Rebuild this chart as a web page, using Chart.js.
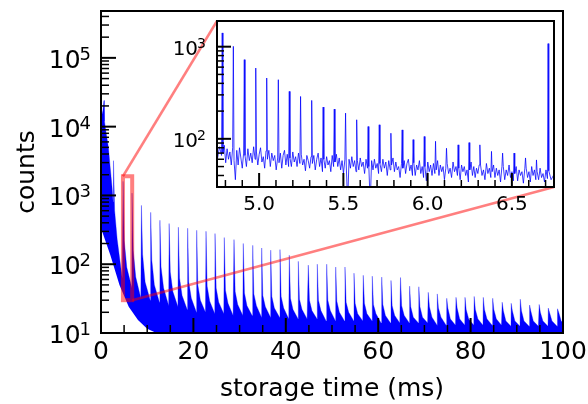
<!DOCTYPE html>
<html>
<head>
<meta charset="utf-8">
<script src="https://cdn.jsdelivr.net/npm/chart.js@4.4.1/dist/chart.umd.min.js"></script>
<style>
  html, body { margin: 0; padding: 0; background: #fff; }
  #wrap { position: relative; width: 588px; height: 404px; }
  #wrap canvas { position: absolute; left: 0; top: 0; }
</style>
</head>
<body>
<div id="wrap">
  <canvas id="mainChart" width="588" height="404"></canvas>
  <canvas id="insetChart" width="588" height="404"></canvas>
</div>
<script>
// ---- main panel data (counts vs storage time in ms) ----
// first ~2.6 ms: big initial burst, read as an envelope
var earlyTimes  = [0.1, 0.4, 0.65, 0.75, 1.0, 1.6, 2.0, 2.4, 2.62];
var earlyCounts = [14000, 17000, 24000, 12000, 9000, 5000, 2500, 1300, 800];

// one revival peak every ~2 ms: peak, shoulder (+0.25), mid (+0.8), trough (+1.9)
var spikeTimes = [2.7, 4.78, 6.72, 8.75, 10.75, 12.75, 14.75, 16.75, 18.75,
  20.71, 22.73, 24.68, 26.69, 28.79, 30.8, 32.84, 34.78, 36.73, 38.74,
  40.76, 42.71, 44.87, 46.82, 48.85, 50.8, 52.81, 54.76, 56.77, 58.72,
  60.76, 62.77, 64.83, 66.8, 68.79, 70.84, 72.79, 74.83, 76.84, 78.79,
  80.78, 82.75, 84.78, 86.84, 88.79, 90.76, 92.77, 94.85, 96.82, 98.81];
var spikePeaks = [3200, 1600, 1080, 716, 567, 435, 390, 345, 333,
  311, 301, 279, 244, 228, 200, 188, 172, 160, 163,
  135, 110, 97, 100, 100, 91, 91, 74, 69, 67,
  65, 58, 64, 48, 47, 39, 37, 32, 33, 33,
  34, 33, 32, 28, 27, 31, 25.5, 26, 23, 22.5];
var spikeShoulders = [600, 220, 160, 140, 114, 91, 77, 63, 55,
  50, 48, 45, 42, 40, 38, 37, 35, 34, 34,
  32, 31, 30, 30, 30, 29, 28, 27, 27, 26,
  26, 25, 25, 24, 24, 24, 23, 23, 23, 22,
  22, 22, 22, 21, 21, 21, 21, 20, 20, 20];
var spikeMids = [230, 90, 65, 55, 50, 45, 40, 35, 32,
  30, 29, 28, 27, 26, 25, 25, 24, 23, 23,
  22, 22, 21, 21, 21, 20, 20, 19, 19, 19,
  18, 18, 18, 17, 17, 17, 17, 16, 16, 16,
  16, 16, 16, 15, 15, 15, 15, 15, 15, 15];
var spikeTroughs = [62, 45, 32, 30, 28, 25, 24, 22, 20,
  20, 19, 19, 18, 18, 18, 17, 17, 17, 16,
  16, 16, 16, 15, 15, 15, 15, 15, 15, 14,
  14, 14, 14, 14, 14, 13, 13, 13, 13, 13,
  13, 13, 13, 12.5, 12.5, 12.5, 12.5, 12.5, 12.5, 12.5];

// lower edge of the data band (white wedge at the start)
var lowerTimes  = [0.1, 2, 4, 6, 8, 10, 12, 101];
var lowerCounts = [320, 137, 50, 24, 15.5, 11.5, 10, 10];

// ---- inset data (4.75 - 6.75 ms) ----
var insetSpikeTimes = [4.781, 4.847, 4.912, 4.980, 5.045, 5.114, 5.179, 5.246, 5.312, 5.380,
  5.446, 5.513, 5.579, 5.647, 5.713, 5.782, 5.849, 5.914, 5.980, 6.047,
  6.112, 6.181, 6.246, 6.310, 6.379, 6.445, 6.513, 6.581, 6.646, 6.715];
var insetSpikeCounts = [1410, 1008, 723, 586, 457, 438, 327, 288, 261, 221,
  210, 190, 161, 136, 142, 115, 125, 98, 106, 94,
  79, 86, 91, 86, 73, 70, 70, 62, 59, 1080];
// background noise between the small peaks (row 0 = before the first peak)
var insetNoise = [
  [75, 60, 82, 66],
  [70, 85, 55, 78, 60, 72, 52, 80], [58, 36, 75, 52, 80, 62, 48, 70], [66, 50, 78, 58, 70, 55, 82, 60],
  [72, 52, 68, 80, 56, 64, 48, 74], [60, 75, 50, 70, 58, 66, 46, 62], [55, 70, 48, 66, 75, 52, 68, 50],
  [62, 50, 72, 56, 64, 50, 70, 54], [68, 52, 60, 45, 66, 58, 48, 64], [54, 66, 46, 60, 70, 50, 62, 44],
  [60, 48, 64, 52, 58, 44, 66, 50], [56, 68, 50, 62, 46, 58, 42, 60], [52, 20, 60, 48, 64, 50, 58, 44],
  [58, 46, 62, 50, 56, 42, 60, 48], [50, 20, 58, 46, 60, 48, 54, 42], [54, 44, 60, 48, 56, 40, 58, 46],
  [52, 62, 44, 56, 46, 50, 38, 54], [48, 58, 42, 54, 60, 45, 52, 40], [55, 40, 52, 46, 58, 42, 50, 38],
  [50, 35, 56, 44, 52, 40, 54, 42], [46, 58, 40, 52, 44, 50, 36, 48], [54, 42, 48, 38, 56, 44, 50, 40],
  [48, 36, 52, 44, 50, 40, 46, 34], [46, 56, 40, 50, 38, 48, 42, 52], [52, 40, 46, 36, 54, 42, 48, 38],
  [44, 52, 38, 48, 40, 46, 34, 50], [50, 36, 46, 40, 52, 38, 44, 35], [42, 50, 35, 46, 40, 44, 33, 48],
  [48, 38, 44, 34, 50, 40, 46, 36], [44, 36, 48, 38, 42, 34, 46, 37],
  [45, 36, 40, 34]
];

// ---- axes ----
var xTicks      = [0, 20, 40, 60, 80, 100];
var xMinorTicks = [5, 10, 15, 25, 30, 35, 45, 50, 55, 65, 70, 75, 85, 90, 95];
var yTicks      = [10, 100, 1000, 10000, 100000];
var insetXTicks      = [5.0, 5.5, 6.0, 6.5];
var insetXMinorTicks = [4.8, 4.9, 5.1, 5.2, 5.3, 5.4, 5.6, 5.7, 5.8, 5.9, 6.1, 6.2, 6.3, 6.4, 6.6, 6.7];
var insetYTicks      = [100, 1000];
var insetXRange = [4.75, 6.75];
var insetYRange = [30, 1900];

var FONT = 'DejaVu Sans';

function logMinors(min, max) {
  var out = [];
  for (var d = 1; d < 1e6; d *= 10) {
    for (var m = 2; m <= 9; m++) {
      var v = m * d;
      if (v > min && v < max) out.push(v);
    }
  }
  return out;
}

// box + inward ticks, like matplotlib's "in" tick direction
function frameAndTicks(chart, o) {
  var ctx = chart.ctx, a = chart.chartArea;
  var xs = chart.scales.x, ys = chart.scales.y;
  ctx.save();
  ctx.strokeStyle = '#000';
  function xt(v, len, w) {
    var p = xs.getPixelForValue(v);
    ctx.lineWidth = w;
    ctx.beginPath(); ctx.moveTo(p, a.bottom); ctx.lineTo(p, a.bottom - len); ctx.stroke();
  }
  function yt(v, len, w) {
    var p = ys.getPixelForValue(v);
    ctx.lineWidth = w;
    ctx.beginPath(); ctx.moveTo(a.left, p); ctx.lineTo(a.left + len, p); ctx.stroke();
  }
  o.xMajor.forEach(function(v) { xt(v, o.major, 2); });
  o.xMinor.forEach(function(v) { xt(v, o.minor, 1.5); });
  o.yMajor.forEach(function(v) { yt(v, o.major, 2); });
  o.yMinor.forEach(function(v) { yt(v, o.minor, 1.5); });
  ctx.lineWidth = 2;
  ctx.strokeRect(a.left, a.top, a.right - a.left, a.bottom - a.top);

  // decade labels as 10 with a raised exponent (mathtext style)
  ctx.fillStyle = '#000';
  ctx.textBaseline = 'alphabetic';
  ctx.textAlign = 'left';
  o.yMajor.forEach(function(v) {
    var p = ys.getPixelForValue(v);
    var ex = String(Math.round(Math.log10(v)));
    ctx.font = o.supSize + 'px "' + FONT + '"';
    var ew = ctx.measureText(ex).width;
    ctx.fillText(ex, o.labelRight - ew, p + o.supDrop);
    ctx.font = o.size + 'px "' + FONT + '"';
    var bw = ctx.measureText('10').width;
    ctx.fillText('10', o.labelRight - ew - bw + 1, p + o.baseDrop);
  });
  ctx.restore();
}

// ---- inset chart (built first so the main chart can read its box) ----
var insetPoints = [];
for (var i = 0; i < insetNoise.length; i++) {
  var row = insetNoise[i];
  var start = i === 0 ? 4.74 : insetSpikeTimes[i - 1] + 0.004;
  var end = i < insetSpikeTimes.length ? insetSpikeTimes[i] - 0.004 : 6.76;
  for (var j = 0; j < row.length; j++) {
    insetPoints.push({ x: start + (end - start) * j / (row.length - 1), y: row[j] });
  }
  if (i < insetSpikeTimes.length) insetPoints.push({ x: insetSpikeTimes[i], y: insetSpikeCounts[i] });
}

var insetFrame = {
  id: 'insetFrame',
  beforeDraw: function(chart) {
    var a = chart.chartArea, ctx = chart.ctx;
    ctx.save(); ctx.fillStyle = '#fff';
    ctx.fillRect(a.left, a.top, a.right - a.left, a.bottom - a.top);
    ctx.restore();
  },
  afterDraw: function(chart) {
    frameAndTicks(chart, { xMajor: insetXTicks, xMinor: insetXMinorTicks,
      yMajor: insetYTicks, yMinor: logMinors(insetYRange[0] - 1, insetYRange[1]), major: 14, minor: 7,
      size: 20, supSize: 14, baseDrop: 8, supDrop: 1, labelRight: 206 });
  }
};

var insetChart = new Chart(document.getElementById('insetChart'), {
  type: 'line',
  data: { datasets: [{
    data: insetPoints,
    borderColor: 'rgba(0,0,255,0.85)', borderWidth: 0.9, pointRadius: 0, tension: 0, fill: false
  }] },
  options: {
    responsive: false, animation: false, events: [],
    layout: { padding: { left: 167, top: 21, right: 34, bottom: 182 } },
    plugins: { legend: { display: false }, tooltip: { enabled: false } },
    scales: {
      x: {
        type: 'linear', min: insetXRange[0], max: insetXRange[1],
        grid: { display: false, drawTicks: false }, border: { display: false },
        afterBuildTicks: function(s) { s.ticks = insetXTicks.map(function(v) { return { value: v }; }); },
        afterFit: function(s) { s.height = 35; s.paddingLeft = 0; s.paddingRight = 0; },
        ticks: { font: { family: FONT, size: 20 }, color: '#000', padding: 6, maxRotation: 0, autoSkip: false,
          callback: function(v) { return v.toFixed(1); } }
      },
      y: {
        type: 'logarithmic', min: insetYRange[0], max: insetYRange[1],
        grid: { display: false, drawTicks: false }, border: { display: false },
        afterBuildTicks: function(s) { s.ticks = insetYTicks.map(function(v) { return { value: v }; }); },
        afterFit: function(s) { s.width = 50; s.paddingTop = 0; s.paddingBottom = 0; },
        ticks: { display: false }
      }
    }
  },
  plugins: [insetFrame]
});

// ---- main chart ----
var upperPoints = [];
earlyTimes.forEach(function(t, i) { upperPoints.push({ x: t, y: earlyCounts[i] }); });
spikeTimes.forEach(function(t, i) {
  upperPoints.push({ x: t,        y: spikePeaks[i] });
  upperPoints.push({ x: t + 0.25, y: spikeShoulders[i] });
  upperPoints.push({ x: t + 0.8,  y: spikeMids[i] });
  upperPoints.push({ x: t + 1.9,  y: spikeTroughs[i] });
});
var lowerPoints = lowerTimes.map(function(t, i) { return { x: t, y: lowerCounts[i] }; });

var mainFrame = {
  id: 'mainFrame',
  afterDatasetsDraw: function(chart) {
    // zoom rectangle and the two connector lines to the inset
    var ctx = chart.ctx, xs = chart.scales.x, ys = chart.scales.y;
    var x0 = xs.getPixelForValue(insetXRange[0]), x1 = xs.getPixelForValue(insetXRange[1]);
    var y0 = ys.getPixelForValue(insetYRange[1]), y1 = ys.getPixelForValue(insetYRange[0]);
    var ia = insetChart.chartArea;
    ctx.save();
    ctx.strokeStyle = 'rgba(255,0,0,0.5)';
    ctx.lineWidth = 4;
    ctx.strokeRect(x0, y0, x1 - x0, y1 - y0);
    ctx.lineWidth = 2.5;
    ctx.beginPath(); ctx.moveTo(x0, y0); ctx.lineTo(ia.left, ia.top); ctx.stroke();
    ctx.beginPath(); ctx.moveTo(x1, y1); ctx.lineTo(ia.right, ia.bottom); ctx.stroke();
    ctx.restore();
  },
  afterDraw: function(chart) {
    frameAndTicks(chart, { xMajor: xTicks, xMinor: xMinorTicks,
      yMajor: yTicks, yMinor: logMinors(10, 4.8e5), major: 15, minor: 8,
      size: 25, supSize: 18, baseDrop: 10, supDrop: 2, labelRight: 91 });
  }
};

new Chart(document.getElementById('mainChart'), {
  type: 'line',
  data: { datasets: [
    { data: lowerPoints, borderColor: 'rgba(0,0,0,0)', borderWidth: 1, pointRadius: 0, fill: false },
    { data: upperPoints, borderColor: 'rgba(0,0,255,0.55)', borderWidth: 0.6, backgroundColor: '#0000ff',
      pointRadius: 0, tension: 0, fill: 0 }
  ] },
  options: {
    responsive: false, animation: false, events: [],
    layout: { padding: { left: 0, top: 11, right: 25, bottom: 0 } },
    plugins: { legend: { display: false }, tooltip: { enabled: false } },
    scales: {
      x: {
        type: 'linear', min: 0, max: 100,
        grid: { display: false, drawTicks: false }, border: { display: false },
        afterBuildTicks: function(s) { s.ticks = xTicks.map(function(v) { return { value: v }; }); },
        afterFit: function(s) { s.height = 71; s.paddingLeft = 0; s.paddingRight = 0; },
        ticks: { font: { family: FONT, size: 25 }, color: '#000', padding: 4, maxRotation: 0, autoSkip: false,
          callback: function(v) { return String(v); } },
        title: { display: true, text: 'storage time (ms)', color: '#000',
          font: { family: FONT, size: 25 }, padding: { top: 0, bottom: 0 } }
      },
      y: {
        type: 'logarithmic', min: 10, max: 4.8e5,
        grid: { display: false, drawTicks: false }, border: { display: false },
        afterBuildTicks: function(s) { s.ticks = yTicks.map(function(v) { return { value: v }; }); },
        afterFit: function(s) { s.width = 101; s.paddingTop = 0; s.paddingBottom = 0; },
        ticks: { display: false },
        title: { display: true, text: 'counts', color: '#000',
          font: { family: FONT, size: 25 }, padding: { top: 12, bottom: 0 } }
      }
    }
  },
  plugins: [mainFrame]
});
</script>
</body>
</html>
